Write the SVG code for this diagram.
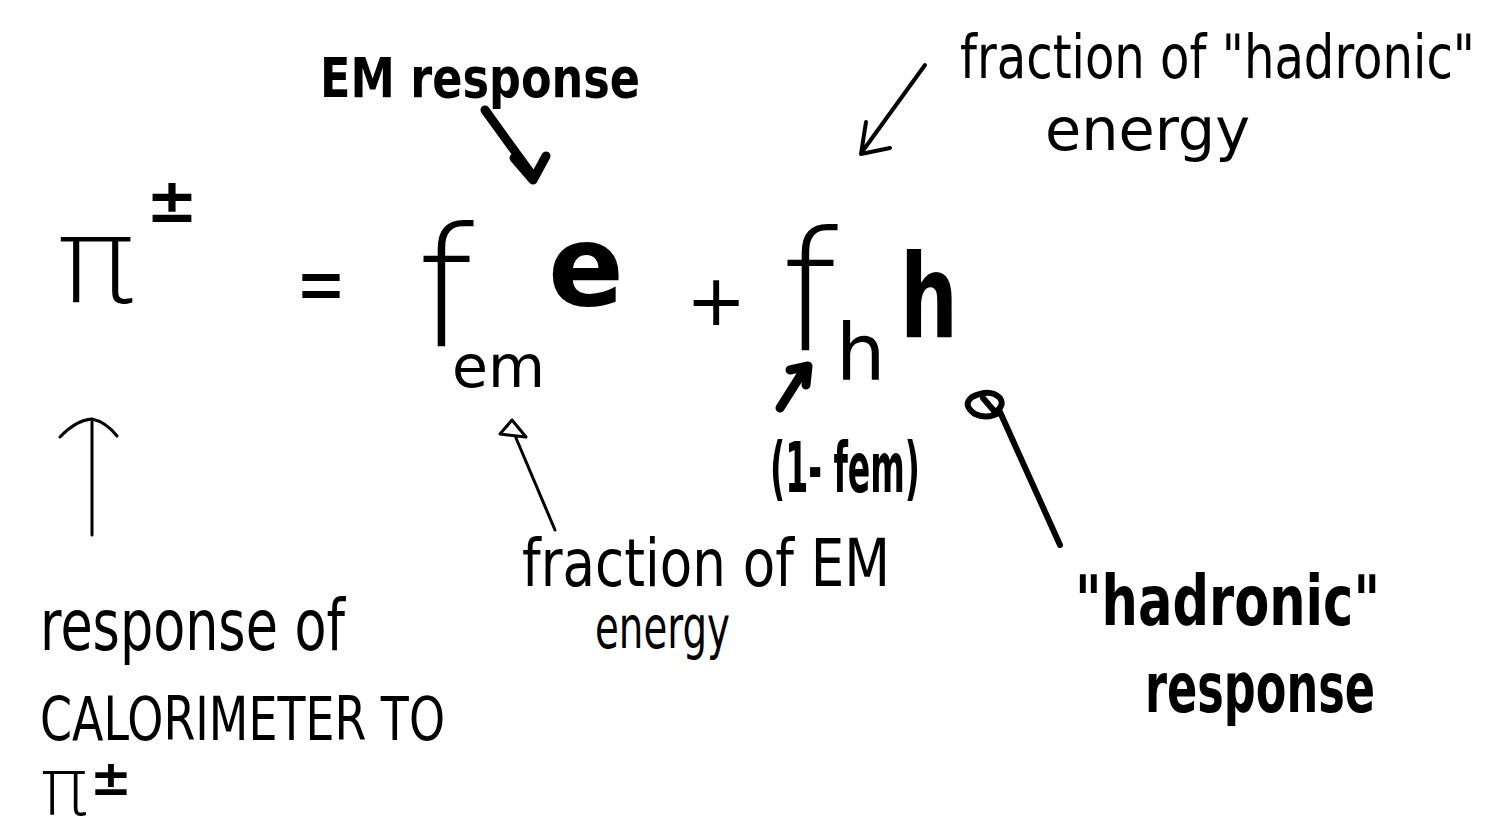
<svg xmlns="http://www.w3.org/2000/svg" width="1506" height="833" viewBox="0 0 1506 833">
<style>
text{font-family:"DejaVu Sans","Liberation Sans",sans-serif;fill:#000}
.b{font-weight:bold}
.t{font-weight:normal}
.l{font-weight:200}
.c{fill:none;stroke:#000;stroke-linecap:round;stroke-linejoin:round}
</style>
<rect width="1506" height="833" fill="#fff"/>
<g id="label-em-response"><text class="b" x="320" y="97" font-size="56" textLength="320" lengthAdjust="spacingAndGlyphs">EM response</text></g>
<g id="label-hadronic-fraction">
<text class="t" x="960" y="78" font-size="60" textLength="515" lengthAdjust="spacingAndGlyphs">fraction of "hadronic"</text>
<text class="t" x="1045" y="150" font-size="58" textLength="205" lengthAdjust="spacingAndGlyphs">energy</text>
</g>
<g id="equation">
<text class="l" x="56" y="302" font-size="120" textLength="80" lengthAdjust="spacingAndGlyphs">π</text>
<text class="b" x="146" y="222" font-size="62">±</text>
<text x="296" y="312" font-size="84" textLength="50" lengthAdjust="spacingAndGlyphs">=</text>
<text class="l" x="416" y="346" font-size="165">f</text>
<text x="452" y="387" font-size="58" textLength="93" lengthAdjust="spacingAndGlyphs">em</text>
<text class="b" x="548" y="305" font-size="112">e</text>
<text x="686" y="325" font-size="72">+</text>
<text class="l" x="780" y="350" font-size="165">f</text>
<text class="b" x="900" y="337" font-size="115" textLength="58" lengthAdjust="spacingAndGlyphs">h</text>
<text x="836" y="380" font-size="78">h</text>
</g>
<g id="label-one-minus-fem">
<text class="b" x="770" y="492" font-size="70" textLength="150" lengthAdjust="spacingAndGlyphs" style="font-family:'DejaVu Sans Condensed','DejaVu Sans',sans-serif">(1- fem)</text>
</g>
<g id="label-response-calorimeter">
<text x="40" y="650" font-size="72" textLength="305" lengthAdjust="spacingAndGlyphs">response of</text>
<text x="40" y="740" font-size="60" textLength="405" lengthAdjust="spacingAndGlyphs">CALORIMETER TO</text>
<text class="l" x="40" y="815" font-size="80">π</text>
<text class="b" x="90" y="795" font-size="50">±</text>
</g>
<g id="label-em-fraction">
<text x="522" y="586" font-size="66" textLength="368" lengthAdjust="spacingAndGlyphs">fraction of EM</text>
<text x="595" y="648" font-size="58" textLength="135" lengthAdjust="spacingAndGlyphs">energy</text>
</g>
<g id="label-hadronic-response">
<text class="b" x="1075" y="625" font-size="70" textLength="305" lengthAdjust="spacingAndGlyphs">"hadronic"</text>
<text class="b" x="1145" y="712" font-size="70" textLength="230" lengthAdjust="spacingAndGlyphs">response</text>
</g>
<g id="connectors">
<path class="c" stroke-width="9" d="M485,110 L532,175 M514,158 L533,180 L546,156"/>
<path class="c" stroke-width="4" d="M925,65 L862,152 M866,122 L861,154 L890,148"/>
<path class="c" stroke-width="3" d="M92,535 L92,422 M60,437 Q76,420 92,419 Q106,422 117,436"/>
<path class="c" stroke-width="3" d="M555,530 L516,438 M500,434 L512,420 L526,437 Z"/>
<path class="c" stroke-width="9" d="M780,408 L804,370 M790,370 L808,366 L806,385"/>
<path class="c" stroke-width="6" d="M1060,545 L1000,412 M1000,412 Q988,420 975,414 Q962,405 972,397 Q990,388 1000,398 Q1005,406 995,412 L983,398"/>
</g>
</svg>
